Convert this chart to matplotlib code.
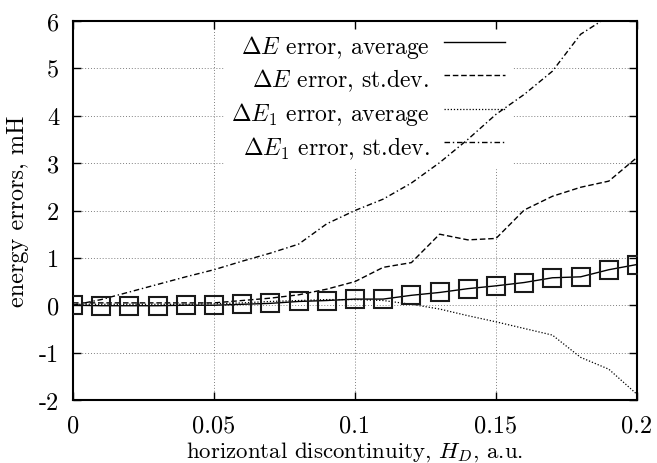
import numpy as np
import matplotlib
matplotlib.use('Agg')
import matplotlib.pyplot as plt

plt.rcParams['font.family'] = 'cmr10'
plt.rcParams['mathtext.fontset'] = 'cm'
plt.rcParams['axes.unicode_minus'] = False

# Data -----------------------------------------------------------------------------------------------------------------
h_d = [0.00, 0.01, 0.02, 0.03, 0.04, 0.05, 0.06, 0.07, 0.08, 0.09, 0.10,
       0.11, 0.12, 0.13, 0.14, 0.15, 0.16, 0.17, 0.18, 0.19, 0.20]
de_avg = [0.00, -0.01, -0.01, -0.01, 0.00, 0.00, 0.02, 0.04, 0.08, 0.10, 0.13,
          0.13, 0.21, 0.27, 0.35, 0.41, 0.48, 0.58, 0.60, 0.75, 0.86]
de_std = [0.05, 0.05, 0.05, 0.05, 0.05, 0.05, 0.10, 0.15, 0.22, 0.34, 0.50,
          0.80, 0.90, 1.50, 1.38, 1.41, 2.01, 2.30, 2.49, 2.62, 3.12]
de1_avg = [0.02, 0.02, 0.02, 0.02, 0.02, 0.03, 0.05, 0.08, 0.10, 0.12, 0.12,
           0.10, 0.02, -0.08, -0.22, -0.35, -0.49, -0.63, -1.10, -1.35, -1.88]
de1_std = [0.00, 0.12, 0.28, 0.44, 0.60, 0.75, 0.93, 1.10, 1.29, 1.72, 2.00,
           2.24, 2.58, 3.01, 3.50, 4.03, 4.45, 4.94, 5.72, 6.10, 6.60]

x_ticks = [0, 0.05, 0.1, 0.15, 0.2]
x_ticklabels = ['0', '0.05', '0.1', '0.15', '0.2']
y_ticks = [-2, -1, 0, 1, 2, 3, 4, 5, 6]
y_ticklabels = ['-2', '-1', '0', '1', '2', '3', '4', '5', '6']

labels = [r'$\Delta E$ error, average', r'$\Delta E$ error, st.dev.',
          r'$\Delta E_1$ error, average', r'$\Delta E_1$ error, st.dev.']

# Plot -----------------------------------------------------------------------------------------------------------------
fig = plt.figure(figsize=(6.57, 4.64), dpi=100)
ax = fig.add_axes([73/657, 63/464, 564/657, 379/464])

# grid drawn by hand so the legend box can hide it
for xv in x_ticks[1:-1]:
    ax.axvline(xv, color='0.5', lw=0.7, ls=(0, (1, 2)), zorder=0.5)
for yv in y_ticks[1:-1]:
    ax.axhline(yv, color='0.5', lw=0.7, ls=(0, (1, 2)), zorder=0.5)

l1, = ax.plot(h_d, de_avg, color='k', lw=1.0, ls='-', marker='s', ms=13, mfc='none', mec='0.1', mew=1.5, zorder=3)
l2, = ax.plot(h_d, de_std, color='k', lw=1.0, ls=(0, (4, 2)), zorder=2)
l3, = ax.plot(h_d, de1_avg, color='k', lw=0.9, ls=(0, (1, 1.5)), zorder=2)
l4, = ax.plot(h_d, de1_std, color='k', lw=1.0, ls=(0, (4, 2, 1, 2)), zorder=2)

# legend handles without markers
h1, = ax.plot([], [], color='k', lw=1.0, ls='-')
leg = ax.legend([h1, l2, l3, l4], labels, loc='upper right', bbox_to_anchor=(512/657, 440/464),
                bbox_transform=fig.transFigure, markerfirst=False, frameon=True, fancybox=False,
                framealpha=1, edgecolor='white', fontsize=17, handlelength=2.6, handletextpad=0.6,
                handleheight=1.6, labelspacing=0.14, borderpad=0.3, borderaxespad=0)
leg.set_zorder(1)

ax.set_xlim(0, 0.2)
ax.set_ylim(-2, 6)
ax.set_xticks(x_ticks)
ax.set_xticklabels(x_ticklabels)
ax.set_yticks(y_ticks)
ax.set_yticklabels(y_ticklabels)
ax.tick_params(direction='in', top=True, right=True, length=6, width=1.0, labelsize=17.5, pad=10)
for sp in ax.spines.values():
    sp.set_linewidth(1.5)

ax.set_xlabel(r'horizontal discontinuity, $H_D$, a.u.', fontsize=16.5, labelpad=2)
ax.set_ylabel('energy errors, mH', fontsize=17.5, labelpad=7)

fig.savefig('out.png', dpi=100)
